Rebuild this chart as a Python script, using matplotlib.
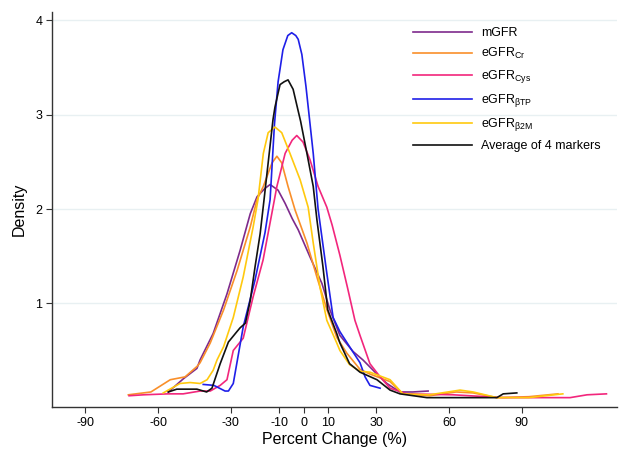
import matplotlib
matplotlib.use("Agg")
import matplotlib.pyplot as plt

plt.rcParams['font.family'] = ['Liberation Sans', 'DejaVu Sans']
plt.rcParams['mathtext.fontset'] = 'custom'
plt.rcParams['mathtext.rm'] = 'Liberation Sans'
plt.rcParams['mathtext.it'] = 'Liberation Sans:italic'
plt.rcParams['axes.unicode_minus'] = False

# ---- data ----
mgfr_x = [-55.8, -49.6, -44, -42.7, -37.3, -31.6, -26.2, -22, -19.2, -15.9, -13.8, -10.5, -7.6, -4.7, -2.2, 2.7, 7.6, 10.9, 15, 20.4, 24.5, 29.5, 34.4, 39.8, 45, 51.4]
mgfr_y = [0.06, 0.2, 0.31, 0.40, 0.68, 1.1, 1.56, 1.95, 2.13, 2.22, 2.26, 2.2, 2.06, 1.9, 1.78, 1.49, 1.21, 0.93, 0.66, 0.49, 0.40, 0.27, 0.15, 0.06, 0.06, 0.07]

cr_x = [-72.3, -63, -55, -48.9, -44, -42.7, -38.5, -33, -27.4, -22, -19.2, -16.6, -13, -11, -9, -6.4, -3.5, 1.4, 5.5, 9.7, 13.7, 17.9, 23.3, 27.4, 35.7, 41, 52, 63, 70, 79.8, 93, 105]
cr_y = [0.03, 0.06, 0.19, 0.22, 0.33, 0.37, 0.58, 0.93, 1.35, 1.81, 2.1, 2.24, 2.49, 2.56, 2.49, 2.24, 1.99, 1.64, 1.28, 0.93, 0.64, 0.47, 0.30, 0.25, 0.17, 0.04, 0.02, 0.06, 0.05, 0.0, 0.01, 0.04]

cys_x = [-72, -66, -56, -49.7, -42.7, -38.5, -34.4, -31.6, -29, -24.9, -20.8, -16.7, -12.6, -11, -7.6, -4.7, -2.8, -0.2, 2.7, 6, 9.6, 11.8, 15, 18.2, 21.2, 23.3, 27.4, 31.6, 35.7, 42.7, 61.7, 82.3, 110, 117, 125]
cys_y = [0.02, 0.03, 0.04, 0.04, 0.07, 0.07, 0.13, 0.19, 0.5, 0.63, 1.07, 1.46, 2.02, 2.24, 2.59, 2.73, 2.78, 2.71, 2.52, 2.24, 2.02, 1.83, 1.51, 1.16, 0.82, 0.66, 0.36, 0.22, 0.10, 0.04, 0.03, 0.0, 0.0, 0.03, 0.04]

btp_x = [-41.4, -37, -32.4, -31, -29, -24.9, -20, -15.9, -13.8, -12, -10.5, -8.5, -6.5, -4.9, -3.2, -2.2, -0.7, 1.0, 4, 6, 9.6, 12.2, 15, 19, 23.3, 25.4, 27.4, 31.6]
btp_y = [0.14, 0.13, 0.07, 0.07, 0.15, 0.75, 1.25, 1.75, 2.1, 2.9, 3.35, 3.69, 3.84, 3.87, 3.84, 3.80, 3.64, 3.3, 2.59, 2.0, 1.32, 0.85, 0.7, 0.54, 0.37, 0.22, 0.13, 0.10]

b2m_x = [-57.9, -51, -46.8, -42.7, -39.8, -37.3, -35.7, -33, -29, -24.9, -20.8, -18.8, -16.6, -14.6, -11.8, -9, -5.6, -1.4, 1.9, 4, 6.8, 9.6, 13.7, 15, 19, 23.3, 27.4, 35.7, 41, 52, 64.6, 70, 79.8, 93, 107]
b2m_y = [0.05, 0.15, 0.16, 0.15, 0.19, 0.29, 0.40, 0.54, 0.85, 1.28, 1.81, 2.1, 2.59, 2.81, 2.87, 2.81, 2.59, 2.31, 2.02, 1.64, 1.17, 0.82, 0.58, 0.5, 0.35, 0.28, 0.27, 0.19, 0.04, 0.03, 0.08, 0.06, 0.0, 0.0, 0.04]

avg_x = [-55.8, -52.3, -44, -40, -37.8, -34.4, -31, -27.5, -26.2, -24, -22, -20, -17.9, -16.3, -12.6, -11.8, -10.5, -9.7, -8, -6.4, -4.3, -2.3, -1.2, 1.4, 4, 5.5, 8, 10, 13.7, 15, 19, 23.3, 30.3, 35.7, 39.8, 50.9, 79.8, 82.4, 88]
avg_y = [0.06, 0.09, 0.09, 0.06, 0.1, 0.36, 0.59, 0.70, 0.74, 0.79, 1.03, 1.39, 1.74, 2.1, 2.95, 3.08, 3.23, 3.32, 3.35, 3.37, 3.27, 3.05, 2.93, 2.59, 2.24, 1.89, 1.39, 0.93, 0.68, 0.58, 0.36, 0.27, 0.19, 0.08, 0.04, 0.0, 0.0, 0.04, 0.05]

labels = ['mGFR', r'eGFR$_{\mathrm{Cr}}$', r'eGFR$_{\mathrm{Cys}}$',
          r'eGFR$_{\mathrm{βTP}}$', r'eGFR$_{\mathrm{β2M}}$', 'Average of 4 markers']
colors = ['#7E2A8C', '#F98F2A', '#F2267C', '#1F1FE8', '#FFC90E', '#111111']

xticks = [-90, -60, -30, -10, 0, 10, 30, 60, 90]
yticks = [1, 2, 3, 4]

fig = plt.figure(figsize=(6.29, 4.61), dpi=100)
ax = fig.add_axes([0.0827, 0.117, 0.898, 0.857])

series = [(mgfr_x, mgfr_y), (cr_x, cr_y), (cys_x, cys_y),
          (btp_x, btp_y), (b2m_x, b2m_y), (avg_x, avg_y)]
for (xs, ys), lab, c in zip(series, labels, colors):
    ax.plot(xs, ys, color=c, lw=1.2, label=lab)

ax.set_xlim(-103.8, 129.3)
ax.set_ylim(-0.1, 4.09)
ax.set_xticks(xticks)
ax.set_yticks(yticks)
ax.tick_params(axis='both', direction='out', length=4, width=0.8, colors='#333333',
               labelsize=9, labelcolor='black', pad=3)
for g in yticks:
    ax.axhline(g, color='#E8F0F2', lw=1, zorder=0)
for s in ['top', 'right']:
    ax.spines[s].set_visible(False)
for s in ['left', 'bottom']:
    ax.spines[s].set_color('#333333')
    ax.spines[s].set_linewidth(1)

ax.set_xlabel('Percent Change (%)', fontsize=11.5, labelpad=2)
ax.set_ylabel('Density', fontsize=11.5, labelpad=6)

leg = ax.legend(loc='upper left', bbox_to_anchor=(0.62, 0.99), frameon=False,
                fontsize=9, handlelength=4.7, handletextpad=0.7, labelspacing=0.56)

fig.savefig('out.png', dpi=100)
